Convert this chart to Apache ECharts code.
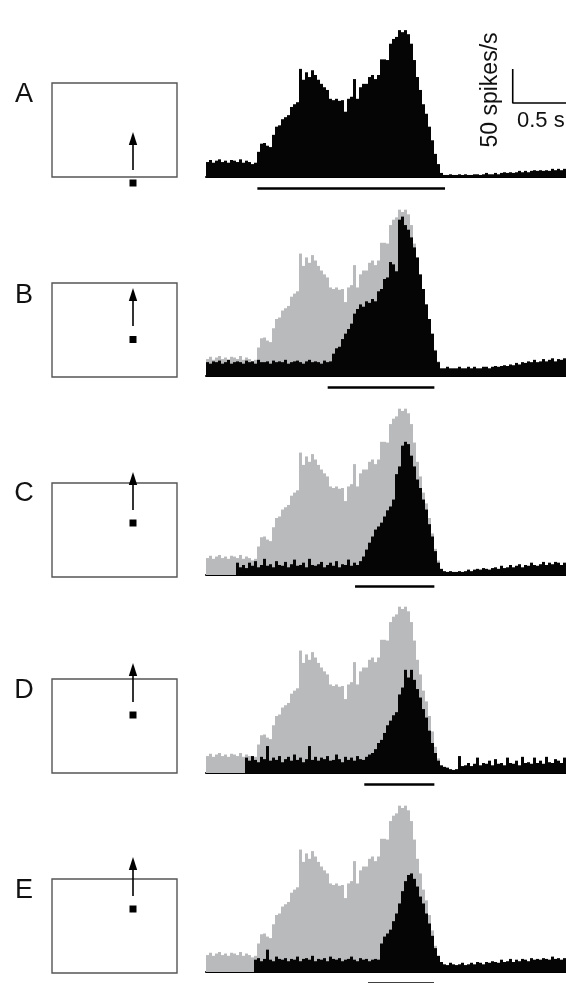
<!DOCTYPE html>
<html><head><meta charset="utf-8">
<script src="https://cdn.jsdelivr.net/npm/echarts@6/dist/echarts.min.js"></script>
<style>html,body{margin:0;padding:0;background:#fff;}#chart{width:566px;height:983px;}</style>
</head><body><div id="chart"></div>
<script>
// ---------- DATA ----------
const BIN_S = 0.025;              // bin width (s)
const ROW_LABELS = ['A', 'B', 'C', 'D', 'E'];
// Row A response (also shown in grey in rows B–E), spikes/s per bin
const rateA = [22,25,21,24,26,22,24,21,25,24,22,26,21,24,22,19,21,
  37,49,50,46,44,62,74,76,85,88,91,103,107,110,159,143,154,147,157,150,143,137,132,128,115,113,115,112,113,96,115,118,144,115,132,137,137,147,150,144,150,173,173,172,196,203,206,216,213,216,210,196,172,147,128,107,93,74,54,34,19,6,
  3,3,4,3,3,4,3,4,3,3,4,4,3,4,6,4,4,6,4,6,7,6,7,6,7,9,7,9,7,9,10,9,10,9,10,9,12,10,12,10,12];
const rateB = [18,16,19,18,20,16,18,21,16,18,19,18,16,20,18,19,16,21,18,18,19,16,20,18,19,18,21,16,18,19,20,18,16,19,21,18,19,18,16,20,18,19,
  29,36,38,48,55,61,68,81,87,93,90,97,95,100,97,110,113,126,128,148,145,136,203,207,196,190,180,167,154,132,113,93,74,55,33,18,
  10,10,12,10,10,10,12,10,10,12,10,12,10,10,12,12,10,12,13,12,13,14,13,15,14,17,15,18,17,19,18,21,18,19,22,19,21,23,19,22,21,23];
const rateC = [0,0,0,0,0,0,0,0,0,0,
  16,10,13,9,16,12,18,10,13,21,12,14,10,18,13,12,17,10,14,20,12,13,16,10,21,13,12,14,17,10,13,16,12,18,10,14,13,20,12,16,13,18,
  24,33,42,50,59,63,68,76,84,89,98,131,141,168,173,170,155,141,124,113,98,85,66,50,31,16,8,
  5,4,5,4,4,5,4,5,7,5,7,8,7,9,8,7,9,10,8,12,9,10,13,10,12,14,10,13,12,16,13,12,14,17,13,16,14,17,16,13,16];
const rateD = [0,0,0,0,0,0,0,0,0,0,0,0,0,
  20,16,22,17,14,21,18,35,16,20,17,22,14,18,21,16,24,17,20,14,18,35,17,21,16,20,18,22,16,17,24,18,14,21,17,20,16,22,18,17,21,24,
  26,31,39,43,52,62,68,75,79,102,111,134,124,134,121,109,98,83,72,55,39,26,16,10,8,7,5,4,5,22,
  9,10,13,9,12,20,10,13,12,16,10,18,12,13,10,20,13,12,16,10,21,13,14,12,20,13,16,12,21,14,13,18,16,13,20];
const rateE = [0,0,0,0,0,0,0,0,0,0,0,0,0,0,0,0,
  16,18,14,17,29,16,14,20,17,16,18,14,17,16,20,14,17,18,16,21,14,17,16,18,14,20,17,16,18,14,16,17,20,16,14,18,16,17,14,16,17,16,
  37,46,50,55,66,76,89,105,118,126,128,121,111,98,89,76,63,47,31,21,13,
  10,9,12,10,9,10,12,9,10,12,10,13,12,10,13,12,14,13,12,16,13,14,17,13,16,14,17,16,14,18,16,17,16,18,17,16,20,17,18,16,18];
const stimOn  = [0.428, 1.014, 1.242, 1.319, 1.35];   // s
const stimOff = [1.992, 1.903, 1.903, 1.903, 1.90];   // s
const scaleRate = 50;   // spikes/s
const scaleTime = 0.5;  // s
const scaleRateLabel = '50 spikes/s';
const scaleTimeLabel = '0.5 s';

// ---------- LAYOUT ----------
const blackRates = [rateA, rateB, rateC, rateD, rateE];
const baselines = [177, 376, 575, 773, 972];
const pxPerUnit = [0.68, 0.77, 0.77, 0.77, 0.77];
const Y_MAX = 250, Y_MIN = -20, X_MAX = 3.0;
const STIM_OFFSET_PX = 11.5;
const GREY = '#b9babc', BLACK = '#050505';
const FONT = '"Liberation Sans", Arial, Helvetica, sans-serif';

function toPairs(arr) { return arr.map((v, i) => [i * BIN_S, v]); }
function histSeries(idx, arr, color, z) {
  return {
    type: 'custom', xAxisIndex: idx, yAxisIndex: idx, z: z, silent: true,
    data: toPairs(arr),
    renderItem: function (params, api) {
      const t = api.value(0), v = api.value(1);
      if (!v) return null;
      const p0 = api.coord([t, v]);
      const p1 = api.coord([t + BIN_S, 0]);
      return { type: 'rect', shape: { x: p0[0], y: p0[1], width: p1[0] - p0[0], height: p1[1] - p0[1] },
               style: { fill: color, stroke: null } };
    }
  };
}

const grids = [], xAxes = [], yAxes = [], series = [];
for (let i = 0; i < 5; i++) {
  const ppu = pxPerUnit[i];
  grids.push({ left: 206, width: 360, top: baselines[i] - Y_MAX * ppu, height: (Y_MAX - Y_MIN) * ppu,
    outerBoundsMode: 'none', containLabel: false });
  xAxes.push({ type: 'value', gridIndex: i, min: 0, max: X_MAX,
    axisLine: { show: true, onZero: true, lineStyle: { color: '#000', width: 2 } },
    axisTick: { show: false }, axisLabel: { show: false }, splitLine: { show: false } });
  yAxes.push({ type: 'value', gridIndex: i, min: Y_MIN, max: Y_MAX,
    axisLine: { show: false }, axisTick: { show: false }, axisLabel: { show: false }, splitLine: { show: false } });
  if (i > 0) series.push(histSeries(i, rateA, GREY, 2));
  series.push(histSeries(i, blackRates[i], BLACK, 3));
  const sy = -STIM_OFFSET_PX / ppu;
  series.push({ type: 'line', xAxisIndex: i, yAxisIndex: i, symbol: 'none', silent: true, clip: false,
    data: [[stimOn[i], sy], [stimOff[i], sy]], lineStyle: { color: '#000', width: 2.5 } });
}
// scale bar in row A
const SB_T0 = 2.556, SB_Y0 = 108.8;
series.push({ type: 'line', xAxisIndex: 0, yAxisIndex: 0, symbol: 'none', silent: true, clip: false,
  data: [[SB_T0, SB_Y0 + scaleRate], [SB_T0, SB_Y0], [SB_T0 + scaleTime, SB_Y0]],
  lineStyle: { color: '#000', width: 1.6 } });

// schematics
const rectTop = [83, 283, 483, 679, 879];
const arrowTip = [132, 288, 472, 663, 857];
const arrowTail = [170, 326, 510, 702, 896];
const squareY = [183, 339.5, 523, 715, 909];
const letterY = [95, 296, 494, 691, 891];
const graphic = [];
for (let i = 0; i < 5; i++) {
  graphic.push({ type: 'text', x: 24, y: letterY[i],
    style: { text: ROW_LABELS[i], font: '27px ' + FONT, fill: '#111', align: 'center', verticalAlign: 'middle' } });
  graphic.push({ type: 'rect', shape: { x: 52, y: rectTop[i], width: 125, height: 94 },
    style: { fill: 'none', stroke: '#555', lineWidth: 1.4 } });
  graphic.push({ type: 'line', shape: { x1: 133, y1: arrowTail[i], x2: 133, y2: arrowTip[i] + 9 },
    style: { stroke: '#000', lineWidth: 1.6 } });
  graphic.push({ type: 'polygon', shape: { points: [[133, arrowTip[i]], [128.8, arrowTip[i] + 13], [137.2, arrowTip[i] + 13]] },
    style: { fill: '#000' } });
  graphic.push({ type: 'rect', shape: { x: 129.5, y: squareY[i] - 3.5, width: 7, height: 7 }, style: { fill: '#000' } });
}
graphic.push({ type: 'text', x: 517, y: 121,
  style: { text: scaleTimeLabel, font: '22px ' + FONT, fill: '#111', align: 'left', verticalAlign: 'middle' } });
graphic.push({ type: 'text', x: 491, y: 90, rotation: Math.PI / 2,
  style: { text: scaleRateLabel, font: '23px ' + FONT, fill: '#111', align: 'center', verticalAlign: 'middle' } });

const chart = echarts.init(document.getElementById('chart'), null, { renderer: 'canvas' });
chart.setOption({
  animation: false, backgroundColor: '#fff',
  grid: grids, xAxis: xAxes, yAxis: yAxes, series: series, graphic: graphic
});
</script></body></html>
